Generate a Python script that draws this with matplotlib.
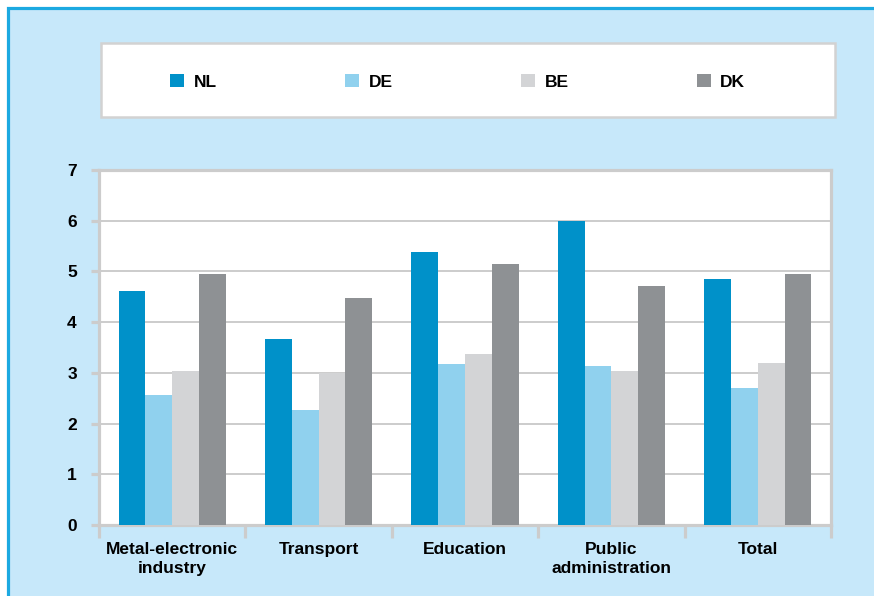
import matplotlib
matplotlib.use("Agg")
import matplotlib.pyplot as plt
from matplotlib.patches import Rectangle
import numpy as np

categories = ["Metal-electronic\nindustry", "Transport", "Education", "Public\nadministration", "Total"]
series_names = ["NL", "DE", "BE", "DK"]
nl = [4.62, 3.67, 5.38, 6.00, 4.85]
de = [2.56, 2.27, 3.17, 3.14, 2.70]
be = [3.03, 3.00, 3.37, 3.03, 3.19]
dk = [4.95, 4.47, 5.14, 4.71, 4.95]
yticks = [0, 1, 2, 3, 4, 5, 6, 7]

colors = ["#0091c9", "#90d1ee", "#d3d4d6", "#8e9194"]
FONT = ["Liberation Sans Narrow", "Liberation Sans", "DejaVu Sans"]
plt.rcParams["font.family"] = FONT
plt.rcParams["font.weight"] = "bold"
FS = 12.5

W, H = 874, 596
fig = plt.figure(figsize=(W / 100, H / 100), dpi=100, facecolor="white")

# outer light-blue panel with blue border on top and left
panel = Rectangle((7.5 / W, -0.1), 1.2, (H - 7.5) / H + 0.1, transform=fig.transFigure,
                  facecolor="#c7e8fa", edgecolor="#1ca9e1", linewidth=2.3, zorder=-2)
fig.patches.append(panel)

# legend box
lbox = Rectangle((101 / W, (H - 117) / H), (835 - 101) / W, (117 - 43) / H, transform=fig.transFigure,
                 facecolor="white", edgecolor="#d2d2d2", linewidth=1.8, zorder=-1)
fig.patches.append(lbox)

ax = fig.add_axes([99 / W, (H - 525) / H, (831 - 99) / W, (525 - 170) / H])
ax.set_zorder(5)
ax.set_facecolor("white")

x = np.arange(len(categories))
bw = 0.183
data = [nl, de, be, dk]
handles = []
for i, (name, vals) in enumerate(zip(series_names, data)):
    b = ax.bar(x + (i - 1.5) * bw, vals, width=bw, color=colors[i], label=name,
               linewidth=0, zorder=3)
    handles.append(b)

ax.set_xlim(-0.5, len(categories) - 0.5)
ax.set_ylim(0, 7)
ax.set_yticks(yticks)
ax.set_yticklabels([str(t) for t in yticks], fontsize=FS, fontweight="bold")
for lbl in ax.get_yticklabels():
    lbl.set_verticalalignment("center_baseline")
ax.set_xticks(x)
ax.set_xticklabels(categories, fontsize=FS, fontweight="bold", linespacing=1.4)
ax.set_xticks(np.arange(len(categories) + 1) - 0.5, minor=True)

ax.yaxis.grid(True, color="#c8c8c8", linewidth=1.3, zorder=1)
ax.set_axisbelow(True)
for s in ax.spines.values():
    s.set_color("#cccccc")
    s.set_linewidth(2.3)
ax.tick_params(axis="y", length=6, width=2.3, color="#cccccc", pad=10, labelcolor="black")
ax.tick_params(axis="x", which="major", length=0, pad=12, labelcolor="black")
ax.tick_params(axis="x", which="minor", length=9, width=2.3, color="#cccccc")

leg = fig.legend(handles=handles, labels=series_names, loc="center left",
                 bbox_to_anchor=(170 / W, (H - 82) / H), ncol=4, frameon=False,
                 prop={"family": FONT, "weight": "bold", "size": FS},
                 handlelength=0.8, handleheight=0.8, handletextpad=0.55,
                 columnspacing=7.4, borderpad=0, borderaxespad=0)
leg.set_zorder(6)

fig.savefig("out.png", dpi=100, facecolor="white")
